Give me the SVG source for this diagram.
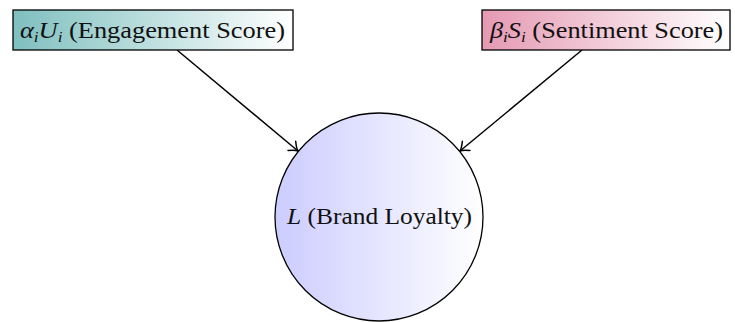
<svg xmlns="http://www.w3.org/2000/svg" width="735" height="322" viewBox="0 0 735 322">
  <defs>
    <linearGradient id="gTeal" x1="0" y1="0" x2="1" y2="0">
      <stop offset="0" stop-color="#7fbfbf"/>
      <stop offset="1" stop-color="#ffffff"/>
    </linearGradient>
    <linearGradient id="gPink" x1="0" y1="0" x2="1" y2="0">
      <stop offset="0" stop-color="#e599b3"/>
      <stop offset="1" stop-color="#ffffff"/>
    </linearGradient>
    <linearGradient id="gBlue" x1="0" y1="0" x2="1" y2="0">
      <stop offset="0" stop-color="#ccccff"/>
      <stop offset="1" stop-color="#ffffff"/>
    </linearGradient>
    <marker id="arrow" viewBox="-10 -7 12 14" markerWidth="12" markerHeight="14" refX="0" refY="0" orient="auto" markerUnits="userSpaceOnUse">
      <path d="M -8 -6 Q -3 -1 0 0 Q -3 1 -8 6" fill="none" stroke="#000" stroke-width="1.5" stroke-linecap="round"/>
    </marker>
  </defs>
  <style>
    .box { stroke: #000; stroke-width: 1.3; }
    .lbl { font-family: "Liberation Serif", "DejaVu Serif", serif; font-size: 23px; fill: #111; }
    .math { font-style: italic; }
    .sub { font-size: 15px; }
    .edge { stroke: #000; stroke-width: 1.5; fill: none; }
  </style>

  <g id="edges">
    <line class="edge" x1="177" y1="50" x2="298" y2="151" marker-end="url(#arrow)"/>
    <line class="edge" x1="582" y1="50" x2="460" y2="151" marker-end="url(#arrow)"/>
  </g>

  <g id="engagement">
    <rect class="box" x="13" y="10" width="280" height="40" fill="url(#gTeal)"/>
    <text class="lbl" x="20" y="38" textLength="265" lengthAdjust="spacingAndGlyphs"><tspan class="math">α</tspan><tspan class="math sub" dy="4">i</tspan><tspan class="math" dy="-4">U</tspan><tspan class="math sub" dy="4">i</tspan><tspan dy="-4"> (Engagement Score)</tspan></text>
  </g>

  <g id="sentiment">
    <rect class="box" x="482" y="10" width="248" height="40" fill="url(#gPink)"/>
    <text class="lbl" x="490" y="38" textLength="233" lengthAdjust="spacingAndGlyphs"><tspan class="math">β</tspan><tspan class="math sub" dy="4">i</tspan><tspan class="math" dy="-4">S</tspan><tspan class="math sub" dy="4">i</tspan><tspan dy="-4"> (Sentiment Score)</tspan></text>
  </g>

  <g id="loyalty">
    <circle class="box" cx="379" cy="217" r="104" fill="url(#gBlue)"/>
    <text class="lbl" x="287" y="224" textLength="185" lengthAdjust="spacingAndGlyphs"><tspan class="math">L</tspan> (Brand Loyalty)</text>
  </g>
</svg>
